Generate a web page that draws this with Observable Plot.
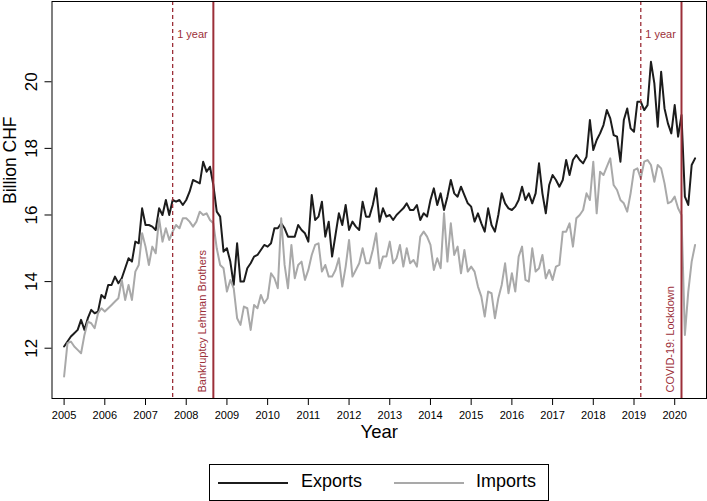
<!DOCTYPE html>
<html>
<head>
<meta charset="utf-8">
<script src="https://cdn.jsdelivr.net/npm/d3@7"></script>
<script src="https://cdn.jsdelivr.net/npm/@observablehq/plot@0.6"></script>
<style>
  html, body { margin: 0; padding: 0; background: #fff; }
  #wrap { position: relative; width: 707px; height: 501px; font-family: "Liberation Sans", Arial, Helvetica, sans-serif; }
  #legend { position: absolute; left: 209px; top: 464px; width: 338px; height: 35px; border: 1px solid #000; box-sizing: content-box; }
  #legend .sw { position: absolute; top: 17px; height: 0; border-top: 2px solid; width: 70px; }
  #legend .lb { position: absolute; top: 5px; font-size: 18px; line-height: 22px; color: #000; }
</style>
</head>
<body>
<div id="wrap">
  <div id="chart"></div>
  <div id="legend"></div>
</div>
<script>
// Monthly values, Jan 2005 .. Jul 2020 (billion CHF)
const startYear = 2005;
const exportsCHF = [
  12.05, 12.2, 12.35, 12.45, 12.55, 12.85, 12.55, 12.9, 13.15, 13.05, 13.1, 13.6,
  13.5, 13.9, 13.9, 14.15, 13.95, 14.1, 14.4, 14.7, 14.6, 15.2, 15.15, 16.2,
  15.7, 15.7, 15.65, 15.55, 16.2, 16.0, 16.45, 16.0, 16.45, 16.4, 16.45, 16.3,
  16.45, 16.7, 17.05, 17.0, 16.95, 17.6, 17.3, 17.45, 16.9, 16.1, 15.95, 14.9,
  15.0, 14.6, 13.9, 15.15, 14.0, 14.0, 14.4, 14.55, 14.75, 14.8, 14.95, 15.1,
  15.05, 15.15, 15.6, 15.6, 15.75, 15.6, 15.35, 15.35, 15.35, 15.7, 15.55, 15.45,
  15.2, 16.6, 15.85, 15.95, 16.4, 15.35, 15.8, 14.75, 15.4, 16.05, 15.7, 16.3,
  15.55, 15.8, 15.65, 15.55, 16.4, 15.95, 15.95, 16.3, 16.8, 15.8, 16.2, 15.95,
  16.0, 15.85, 16.0, 16.1, 16.2, 16.35, 16.15, 16.15, 16.3, 15.85, 16.05, 15.95,
  16.45, 16.8, 16.3, 16.65, 16.15, 16.55, 17.05, 16.65, 16.55, 16.85, 16.6, 16.35,
  16.25, 15.8, 16.05, 15.75, 15.5, 16.2, 15.7, 15.5, 16.0, 16.65, 16.35, 16.2,
  16.15, 16.25, 16.45, 16.85, 16.45, 16.65, 16.35, 16.65, 17.55, 16.65, 16.05, 16.9,
  17.2, 17.05, 16.85, 17.05, 17.65, 17.2, 17.65, 17.8, 17.65, 17.55, 17.75, 18.85,
  17.95, 18.25, 18.45, 18.7, 19.15, 18.9, 18.4, 18.35, 17.6, 18.85, 19.2, 18.6,
  18.5, 19.4, 19.4, 19.15, 19.3, 20.6, 19.95, 18.65, 20.3, 19.2, 18.75, 18.45,
  19.3, 18.35, 19.0, 16.55, 16.3, 17.5, 17.7
];
const importsCHF = [
  11.15, 12.15, 12.2, 12.05, 11.95, 11.85, 12.4, 12.8, 12.75, 12.6, 13.05, 13.2,
  13.1, 13.2, 13.3, 13.4, 13.5, 14.05, 13.45, 13.9, 13.45, 14.3, 14.5, 15.45,
  15.05, 14.5, 15.05, 14.85, 15.9, 15.2, 15.6, 15.25, 15.5, 15.7, 15.6, 15.9,
  15.9, 15.8, 15.65, 15.8, 16.1, 16.0, 16.05, 15.85, 15.75, 15.0, 14.5, 14.4,
  13.7, 14.05, 13.8, 12.9, 12.7, 13.25, 13.2, 12.55, 13.3, 13.2, 13.6, 13.35,
  13.5, 14.25, 14.1, 13.8, 15.9, 14.5, 13.8, 15.1, 14.1, 14.5, 14.6, 14.05,
  14.35, 14.8, 15.1, 15.15, 14.3, 14.5, 14.15, 14.15, 14.35, 14.7, 13.85, 14.45,
  15.25, 14.15, 14.35, 14.55, 15.0, 14.55, 14.55, 14.95, 15.45, 14.4, 14.75, 14.75,
  15.2, 14.55, 14.7, 15.1, 14.45, 15.0, 14.55, 14.65, 14.45, 15.35, 15.5, 15.35,
  15.1, 14.35, 14.7, 14.4, 16.05, 14.6, 15.75, 14.8, 15.05, 14.25, 14.95, 14.3,
  14.45, 14.3, 13.85, 13.55, 12.95, 13.7, 13.65, 12.9, 13.5, 13.9, 14.55, 13.65,
  14.25, 13.7, 14.75, 15.05, 14.05, 14.0, 15.0, 14.3, 14.4, 14.8, 14.1, 14.35,
  14.05, 14.45, 14.5, 15.5, 15.5, 15.75, 15.05, 15.9, 16.0, 16.15, 16.65, 16.45,
  17.6, 16.05, 17.3, 17.2, 17.45, 17.7, 16.9, 16.75, 16.45, 16.35, 16.1, 16.65,
  17.35, 17.4, 17.1, 17.6, 17.65, 17.5, 17.0, 17.5, 17.4, 16.95, 16.35, 16.4,
  16.55, 16.2, 16.0, 12.4, 13.7, 14.6, 15.1
];
const yearTicks = [2005, 2006, 2007, 2008, 2009, 2010, 2011, 2012, 2013, 2014, 2015, 2016, 2017, 2018, 2019, 2020];
const valueTicks = [12, 14, 16, 18, 20];
// events: [year, month (1-12)]
const eventDates = [{year: 2008, month: 9, label: "Bankruptcy Lehman Brothers"}, {year: 2020, month: 3, label: "COVID-19: Lockdown"}];
const windowDates = [{year: 2007, month: 9, label: "1 year"}, {year: 2019, month: 3, label: "1 year"}];
const seriesNames = ["Exports", "Imports"];
const seriesColors = ["#1c1c1c", "#a9a9a9"];
const eventColor = "#9c2f39";

const toX = (y, m) => y + (m - 1) / 12;
const exp = exportsCHF.map((v, i) => ({x: startYear + i / 12, v}));
const imp = importsCHF.map((v, i) => ({x: startYear + i / 12, v}));
const events = eventDates.map(d => ({x: toX(d.year, d.month), label: d.label}));
const windows = windowDates.map(d => ({x: toX(d.year, d.month), label: d.label}));

const chart = Plot.plot({
  width: 707,
  height: 462,
  marginLeft: 51.5,
  marginRight: 1,
  marginTop: 1,
  marginBottom: 64,
  style: {fontFamily: '"Liberation Sans", Arial, Helvetica, sans-serif', color: "#000", background: "#fff", overflow: "visible"},
  x: {domain: [2004.7028, 2020.781], label: null},
  y: {domain: [10.49, 22.41], label: null},
  marks: [
    Plot.axisX({ticks: yearTicks, tickFormat: d => String(d), tickSize: 7, tickPadding: 5.5, fontSize: 11, label: null}),
    Plot.axisY({ticks: valueTicks, tickFormat: d => String(d), tickSize: 7, tickRotate: -90, tickPadding: 8.5, fontSize: 17, label: null}),
    Plot.line(exp, {x: "x", y: "v", stroke: seriesColors[0], strokeWidth: 2, strokeLinejoin: "round"}),
    Plot.line(imp, {x: "x", y: "v", stroke: seriesColors[1], strokeWidth: 2, strokeLinejoin: "round"}),
    Plot.ruleX(windows, {x: "x", stroke: eventColor, strokeWidth: 1.3, strokeDasharray: "4,3"}),
    Plot.ruleX(events, {x: "x", stroke: eventColor, strokeWidth: 2}),
    Plot.text(windows, {x: "x", text: "label", frameAnchor: "top", dy: 29, dx: 4.5, textAnchor: "start", fill: eventColor, fontSize: 11}),
    Plot.text(events, {x: "x", text: "label", frameAnchor: "bottom", dy: -6, dx: -7.5, rotate: -90, textAnchor: "start", fill: eventColor, fontSize: 11}),
    Plot.text(["Billion CHF"], {frameAnchor: "left", dx: -41.5, dy: 4, rotate: -90, fontSize: 17.5, fill: "#000"}),
    Plot.text(["Year"], {frameAnchor: "bottom", dy: 39.5, fontSize: 18.5, fill: "#000"}),
    Plot.frame({stroke: "#000", strokeWidth: 1})
  ]
});
document.getElementById("chart").appendChild(chart);

// legend
const legend = document.getElementById("legend");
const swX = [8, 184], lbX = [91, 266];
seriesNames.forEach((name, i) => {
  const sw = document.createElement("div");
  sw.className = "sw";
  sw.style.left = swX[i] + "px";
  sw.style.borderTopColor = seriesColors[i];
  legend.appendChild(sw);
  const lb = document.createElement("div");
  lb.className = "lb";
  lb.style.left = lbX[i] + "px";
  lb.textContent = name;
  legend.appendChild(lb);
});
</script>
</body>
</html>
